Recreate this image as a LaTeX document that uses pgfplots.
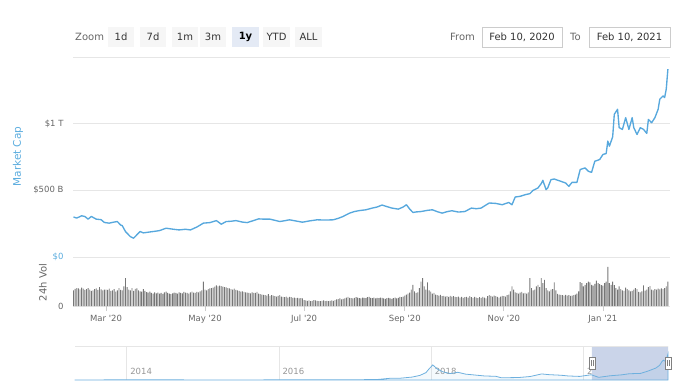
\documentclass[border=0pt]{standalone}
\usepackage{pgfplots}
\pgfplotsset{compat=1.18}
\usepackage{pgfplotstable}
\usepackage{fontspec}
\setmainfont{DejaVu Sans}[Ligatures=TeXOff]
\definecolor{capline}{RGB}{87,168,221}
\definecolor{capblue}{RGB}{90,172,222}
\definecolor{gridgray}{RGB}{230,230,230}
\definecolor{labgray}{RGB}{102,102,102}
\definecolor{volgray}{RGB}{118,118,118}
\definecolor{selblue}{RGB}{202,212,233}
\definecolor{navline}{RGB}{110,176,222}
\definecolor{btnbg}{RGB}{246,246,246}
\definecolor{btnsel}{RGB}{228,234,245}
\definecolor{btntext}{RGB}{51,51,51}
\definecolor{boxgray}{RGB}{204,204,204}
\definecolor{navtext}{RGB}{150,150,150}

\pgfplotstableread[row sep=\\]{
vol\\
95\\105\\110\\108\\102\\112\\106\\98\\104\\110\\100\\92\\96\\104\\108\\98\\115\\102\\96\\100\\
100\\98\\106\\92\\96\\104\\88\\95\\110\\98\\96\\120\\170\\115\\100\\96\\110\\92\\105\\108\\96\\90\\88\\104\\92\\85\\82\\88\\80\\76\\84\\
78\\82\\76\\80\\74\\84\\88\\80\\76\\72\\78\\82\\80\\76\\84\\80\\78\\86\\82\\80\\76\\84\\88\\82\\80\\86\\84\\90\\96\\150\\
100\\96\\104\\108\\110\\112\\118\\126\\120\\124\\122\\118\\116\\114\\110\\108\\104\\100\\106\\98\\96\\92\\88\\90\\86\\84\\82\\80\\78\\84\\80\\
80\\86\\76\\72\\70\\68\\66\\64\\72\\62\\66\\64\\60\\58\\62\\66\\58\\56\\54\\58\\52\\56\\54\\50\\52\\48\\50\\46\\48\\46\\
36\\34\\32\\34\\30\\32\\36\\34\\32\\30\\30\\32\\34\\30\\32\\30\\32\\34\\32\\36\\40\\42\\46\\40\\44\\46\\52\\56\\50\\48\\46\\
50\\54\\52\\48\\46\\52\\50\\48\\54\\56\\50\\48\\52\\46\\50\\48\\52\\50\\46\\44\\48\\50\\46\\44\\48\\52\\46\\50\\56\\54\\58\\
64\\70\\76\\82\\100\\130\\90\\80\\84\\110\\150\\170\\120\\100\\145\\95\\88\\76\\80\\70\\66\\64\\68\\60\\62\\58\\60\\56\\62\\58\\
60\\56\\54\\58\\52\\56\\50\\54\\56\\52\\60\\54\\50\\56\\52\\48\\54\\50\\56\\52\\46\\60\\66\\62\\58\\64\\60\\56\\52\\58\\62\\
60\\58\\66\\70\\90\\120\\100\\84\\80\\76\\82\\86\\78\\80\\76\\84\\170\\110\\96\\100\\120\\130\\115\\170\\140\\160\\110\\96\\90\\100\\
104\\145\\96\\74\\70\\68\\66\\64\\68\\64\\66\\62\\64\\66\\70\\76\\90\\146\\140\\120\\130\\140\\150\\145\\130\\125\\135\\156\\140\\134\\128\\
125\\140\\150\\240\\140\\130\\150\\128\\110\\100\\120\\104\\96\\92\\112\\104\\96\\90\\92\\100\\110\\104\\86\\84\\90\\126\\94\\100\\116\\122\\100\\
96\\104\\100\\106\\102\\108\\104\\110\\120\\150\\
}\voltable

\begin{document}
\begin{tikzpicture}[x=1pt,y=1pt]
\path[use as bounding box] (0,0) rectangle (678,381);

% range selector
\node[anchor=west, text=labgray, font=\fontsize{10}{12}\selectfont, inner sep=0pt] at (75,344) {Zoom};
\foreach \xa/\xb/\t in {108/134/1d,140/166/7d,172/198/1m,200/226/3m,263/290/YTD,295/322/ALL}{
  \fill[btnbg] (\xa,334) rectangle (\xb,354);
  \node[text=btntext, font=\fontsize{10}{12}\selectfont] at ({(\xa+\xb)/2},344) {\t};
}
\fill[btnsel] (232,334) rectangle (259,354);
\node[text=black, font=\fontsize{10}{12}\selectfont\bfseries] at (245.5,344) {1y};

\node[anchor=west, text=labgray, font=\fontsize{10}{12}\selectfont, inner sep=0pt] at (450,344) {From};
\draw[boxgray, fill=white] (482,334) rectangle (562,354);
\node[text=btntext, font=\fontsize{10}{12}\selectfont] at (522,344) {Feb 10, 2020};
\node[anchor=west, text=labgray, font=\fontsize{10}{12}\selectfont, inner sep=0pt] at (570,344) {To};
\draw[boxgray, fill=white] (589,334) rectangle (670,354);
\node[text=btntext, font=\fontsize{10}{12}\selectfont] at (629.5,344) {Feb 10, 2021};

% axis titles
\node[rotate=90, text=capblue, font=\fontsize{10.5}{12}\selectfont] at (18,224.5) {Market Cap};
\node[rotate=90, text=labgray, font=\fontsize{10}{12}\selectfont] at (43,98.5) {24h Vol};

% main market cap axis
\begin{axis}[at={(73pt,124pt)}, anchor=south west, scale only axis,
  width=597pt, height=200pt,
  xmin=-0.3, xmax=367.3, ymin=0, ymax=1500,
  axis line style={draw=none},
  xtick=\empty,
  ytick={0,500,1000,1500},
  yticklabels={{\textcolor{capblue}{\$0}},\$500 B,\$1 T,{}},
  ymajorgrids, major grid style={draw=gridgray, line width=0.8pt},
  major tick length=0pt,
  yticklabel style={font=\fontsize{8.5}{10}\selectfont, text=labgray, anchor=east, xshift=-6pt},
  clip=false]
\addplot[capline, line width=1.35pt, line join=round] coordinates {
(0,300)(2,292)(5,309)(7,304)(9,284)(11,304)(14,284)(17,280)(19,259)(22,254)
(25,262)(27,266)(29,240)(30,236)(32,191)(35,153)(37,141)(39,166)(41,191)(43,181)
(46,186)(49,191)(53,198)(57,216)(61,209)(65,203)(69,208)(72,203)(76,225)(80,254)
(84,258)(88,273)(91,246)(94,266)(97,268)(100,273)(104,262)(107,258)(110,270)(114,286)
(117,284)(121,284)(124,275)(127,266)(130,272)(133,279)(137,270)(141,261)(145,270)(150,279)
(155,277)(160,279)(163,290)(166,304)(170,329)(173,341)(176,348)(180,354)(184,367)(187,375)
(190,390)(193,378)(196,367)(200,359)(203,375)(205,392)(207,360)(209,334)(211,338)(214,341)
(218,350)(221,354)(224,340)(227,329)(230,340)(233,347)(237,337)(241,341)(245,367)(248,362)
(251,367)(254,390)(256,405)(260,402)(264,392)(268,409)(270,392)(272,450)(275,455)(278,467)
(281,475)(283,500)(286,518)(288,550)(289,575)(291,505)(292,518)(294,580)(296,585)(300,568)
(303,555)(305,530)(307,560)(310,560)(312,656)(315,668)(317,643)(319,635)(321,718)(324,731)
(326,769)(328,776)(329,869)(330,831)(332,902)(333,1070)(335,1108)(336,970)(338,957)(340,1045)
(342,957)(344,1045)(345,970)(347,919)(349,970)(351,957)(353,927)(354,1032)(356,1007)(358,1045)
(360,1108)(361,1183)(363,1208)(364,1196)(365,1260)(366,1409)
};
\end{axis}

% volume axis
\begin{axis}[at={(73pt,75pt)}, anchor=south west, scale only axis,
  width=597pt, height=49pt,
  xmin=-0.3, xmax=367.3, ymin=0, ymax=300,
  axis line style={draw=none},
  ytick={0}, yticklabels={0},
  ymajorgrids, major grid style={draw=gridgray, line width=0.8pt},
  xtick={20,81,142,204,265,326},
  xticklabels={Mar '20,May '20,Jul '20,Sep '20,Nov '20,Jan '21},
  xtick align=outside, xtick pos=bottom, ytick pos=left,
  major tick length=5pt,
  xtick style={draw=boxgray, line width=0.8pt},
  ytick style={draw=none},
  xticklabel style={font=\fontsize{8.5}{10}\selectfont, text=labgray, yshift=-1pt},
  yticklabel style={font=\fontsize{8.5}{10}\selectfont, text=labgray, anchor=east, xshift=-6pt},
  clip=false]
\addplot[ybar, bar width=0.9pt, fill=volgray, draw=none] table[x expr=\coordindex, y=vol] {\voltable};
\end{axis}

% navigator
\begin{axis}[at={(75pt,1pt)}, anchor=south west, scale only axis,
  width=593pt, height=34pt,
  xmin=2013.32, xmax=2021.11, ymin=0, ymax=1850,
  axis line style={draw=none},
  ytick=\empty,
  xtick={2014,2016,2018,2020}, xticklabels={2014,2016,2018,2020},
  xmajorgrids, major grid style={draw=gridgray, line width=0.8pt},
  major tick length=0pt,
  xticklabel style={anchor=south west, font=\fontsize{8.5}{10}\selectfont, text=navtext, yshift=2pt, xshift=0pt},
  clip=false]
\addplot[fill=selblue, draw=none, forget plot] coordinates {(2020.11,0) (2020.11,1850) (2021.11,1850) (2021.11,0)} \closedcycle;
\draw[gridgray, line width=0.8pt] (rel axis cs:0,1) -- (rel axis cs:1,1);
\addplot[navline, line width=0.8pt, fill=navline, fill opacity=0.08, draw opacity=1] coordinates {
(2013.32,1.5)(2013.6,1.3)(2013.85,12)(2013.92,14)(2014.05,10)(2014.2,7)(2014.5,8)(2014.8,5)
(2015.0,4)(2015.5,4)(2015.9,6)(2016.2,7)(2016.5,11)(2016.9,12)(2017.1,18)(2017.3,30)
(2017.45,90)(2017.6,100)(2017.75,160)(2017.85,250)(2017.93,400)(2017.97,600)(2018.02,820)
(2018.08,600)(2018.15,450)(2018.25,350)(2018.35,420)(2018.45,320)(2018.55,280)(2018.7,220)
(2018.85,200)(2018.92,120)(2019.0,125)(2019.15,135)(2019.3,190)(2019.45,330)(2019.55,290)
(2019.7,260)(2019.8,220)(2019.95,195)(2020.1,285)(2020.2,145)(2020.35,230)(2020.5,280)
(2020.6,340)(2020.75,360)(2020.85,490)(2020.95,650)(2021.0,800)(2021.03,1000)(2021.05,1080)
(2021.08,1000)(2021.11,1420)
} \closedcycle;
\end{axis}

% navigator handles
\draw[gray, fill=white, line width=0.6pt] (589,12) rectangle (595,24);
\draw[gray, line width=0.5pt] (591,15) -- (591,21) (593,15) -- (593,21);
\draw[gray, fill=white, line width=0.6pt] (665,12) rectangle (671,24);
\draw[gray, line width=0.5pt] (667,15) -- (667,21) (669,15) -- (669,21);
\end{tikzpicture}
\end{document}
